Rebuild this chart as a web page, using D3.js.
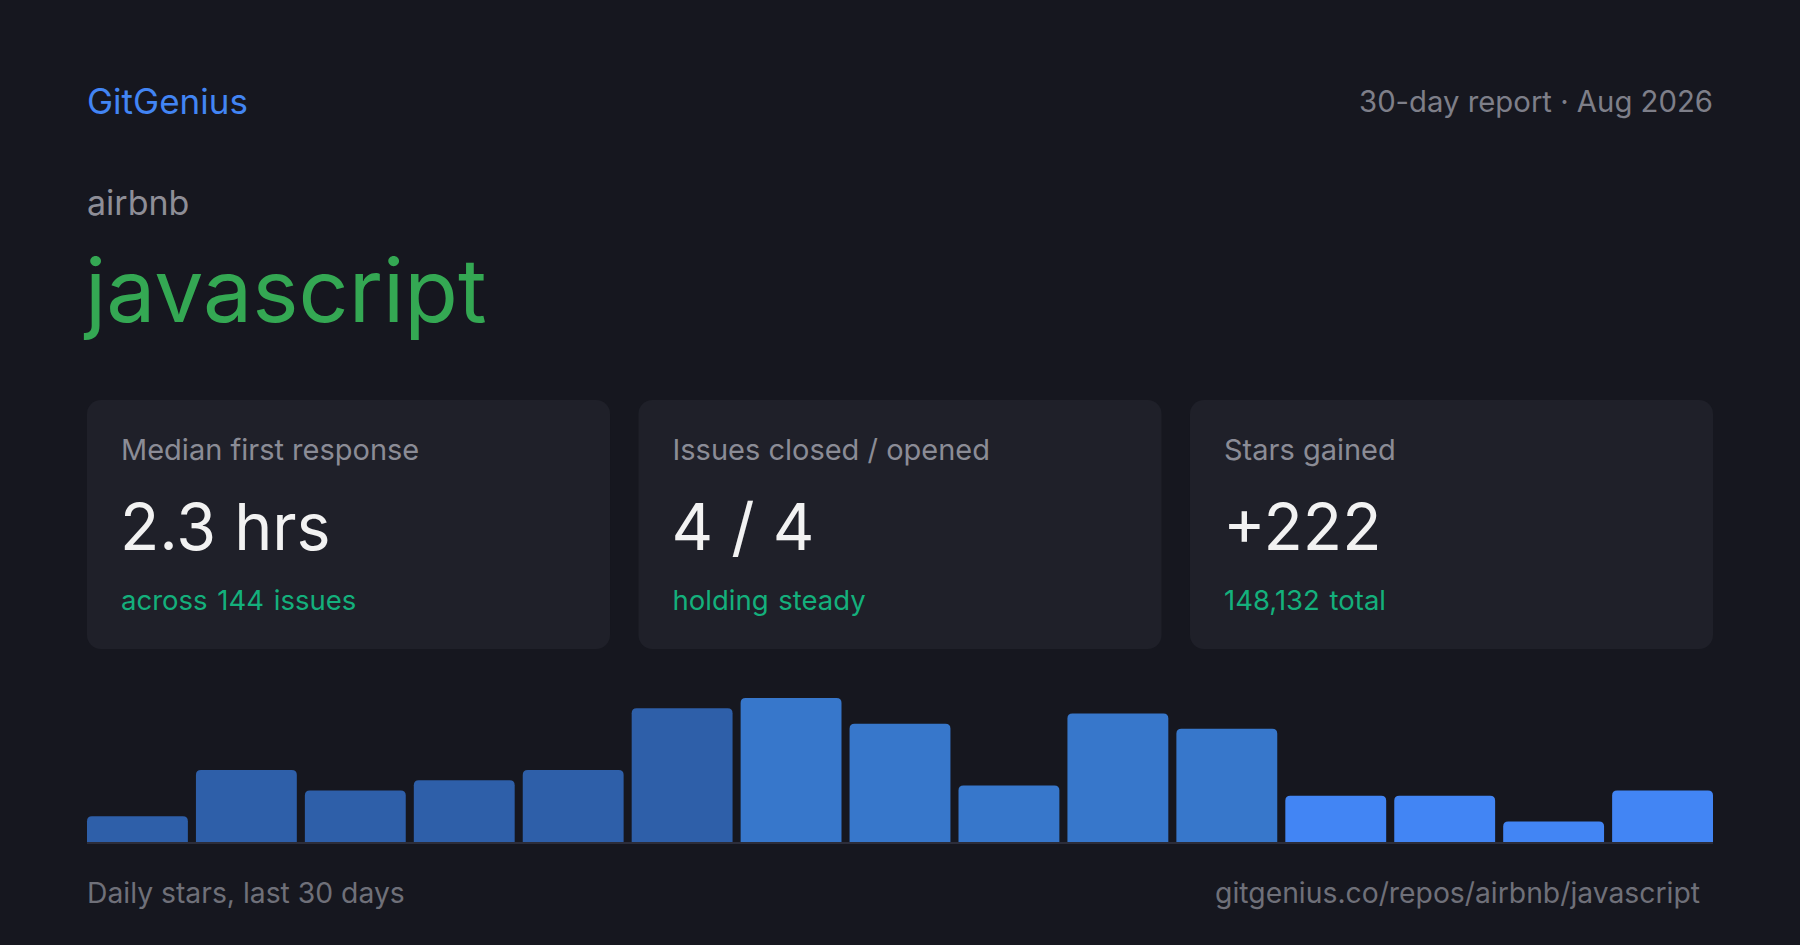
<!DOCTYPE html>
<html>
<head>
<meta charset="utf-8">
<script src="https://cdn.jsdelivr.net/npm/d3@7"></script>
<style>
  html, body { margin: 0; padding: 0; background: #16171f; }
  svg { display: block; font-family: Inter, "Noto Sans", sans-serif; }
</style>
</head>
<body>
<svg id="chart" width="1800" height="945"></svg>
<script>
// ---- data ----
const brand = "GitGenius";
const reportLabel = "30-day report · Aug 2026";
const owner = "airbnb";
const repo = "javascript";
const cardLabels = ["Median first response", "Issues closed / opened", "Stars gained"];
const cardValues = ["2.3 hrs", "4 / 4", "+222"];
const cardNotes = ["across 144 issues", "holding steady", "148,132 total"];
const days = ["d1","d2","d3","d4","d5","d6","d7","d8","d9","d10","d11","d12","d13","d14","d15"];
const dailyStars = [5, 14, 10, 12, 14, 26, 28, 23, 11, 25, 22, 9, 9, 4, 10];
const barGroups = [0, 0, 0, 0, 0, 0, 1, 1, 1, 1, 1, 2, 2, 2, 2];
const groupColors = ["#2e5fa9", "#3777cb", "#4285f4"];
const footerLeft = "Daily stars, last 30 days";
const footerRight = "gitgenius.co/repos/airbnb/javascript";

// ---- layout ----
const W = 1800, H = 945, padX = 87;
const svg = d3.select("#chart");
svg.append("rect").attr("width", W).attr("height", H).attr("fill", "#16171f");

svg.append("text").attr("x", padX).attr("y", 114)
  .attr("font-size", 35).attr("fill", "#4285f4").text(brand);
svg.append("text").attr("x", W - padX).attr("y", 112).attr("text-anchor", "end")
  .attr("font-size", 29.3).attr("fill", "#7e7f89").text(reportLabel);
svg.append("text").attr("x", padX).attr("y", 215)
  .attr("font-size", 34).attr("fill", "#8e8e97").text(owner);
svg.append("text").attr("x", padX - 2).attr("y", 322)
  .attr("font-size", 87.7).attr("fill", "#34a853").text(repo);

// cards
const cardX = d3.scaleBand().domain(d3.range(3)).range([padX, W - padX]).paddingInner(28 / ((W - 2 * padX) / 3));
const cardY = 400, cardH = 249;
const cards = svg.selectAll("g.card").data(d3.range(3)).join("g")
  .attr("class", "card")
  .attr("transform", i => `translate(${cardX(i)},${cardY})`);
cards.append("rect").attr("width", cardX.bandwidth()).attr("height", cardH)
  .attr("rx", 14).attr("fill", "#1f2029");
cards.append("text").attr("x", 34).attr("y", 60)
  .attr("font-size", 29).attr("fill", "#8b8c96").text(i => cardLabels[i]);
cards.append("text").attr("x", 33).attr("y", 150)
  .attr("font-size", 64.5).attr("fill", "#f2f2f2").text(i => cardValues[i]);
cards.append("text").attr("x", 34).attr("y", 210)
  .attr("font-size", 27.5).attr("fill", "#14b07c").attr("word-spacing", 2)
  .text(i => cardNotes[i]);

// bars
const baseY = 842, chartH = 144;
const x = d3.scaleBand().domain(days).range([padX, W - padX]).paddingInner(0.074).paddingOuter(0);
const y = d3.scaleLinear().domain([0, d3.max(dailyStars)]).range([baseY, baseY - chartH]);
const r = 5;
svg.append("g").selectAll("path").data(days).join("path")
  .attr("fill", (d, i) => groupColors[barGroups[i]])
  .attr("d", (d, i) => {
    const x0 = x(d), w = x.bandwidth(), y0 = y(dailyStars[i]);
    return `M${x0},${baseY}V${y0 + r}Q${x0},${y0} ${x0 + r},${y0}H${x0 + w - r}Q${x0 + w},${y0} ${x0 + w},${y0 + r}V${baseY}Z`;
  });
svg.append("line").attr("x1", padX).attr("x2", W - padX)
  .attr("y1", baseY + 1).attr("y2", baseY + 1)
  .attr("stroke", "#2c2d3a").attr("stroke-width", 2);

svg.append("text").attr("x", padX).attr("y", 903)
  .attr("font-size", 28.3).attr("fill", "#6f7079").text(footerLeft);
svg.append("text").attr("x", W - padX - 13).attr("y", 903).attr("text-anchor", "end")
  .attr("font-size", 28.3).attr("fill", "#6f7079").text(footerRight);
</script>
</body>
</html>
